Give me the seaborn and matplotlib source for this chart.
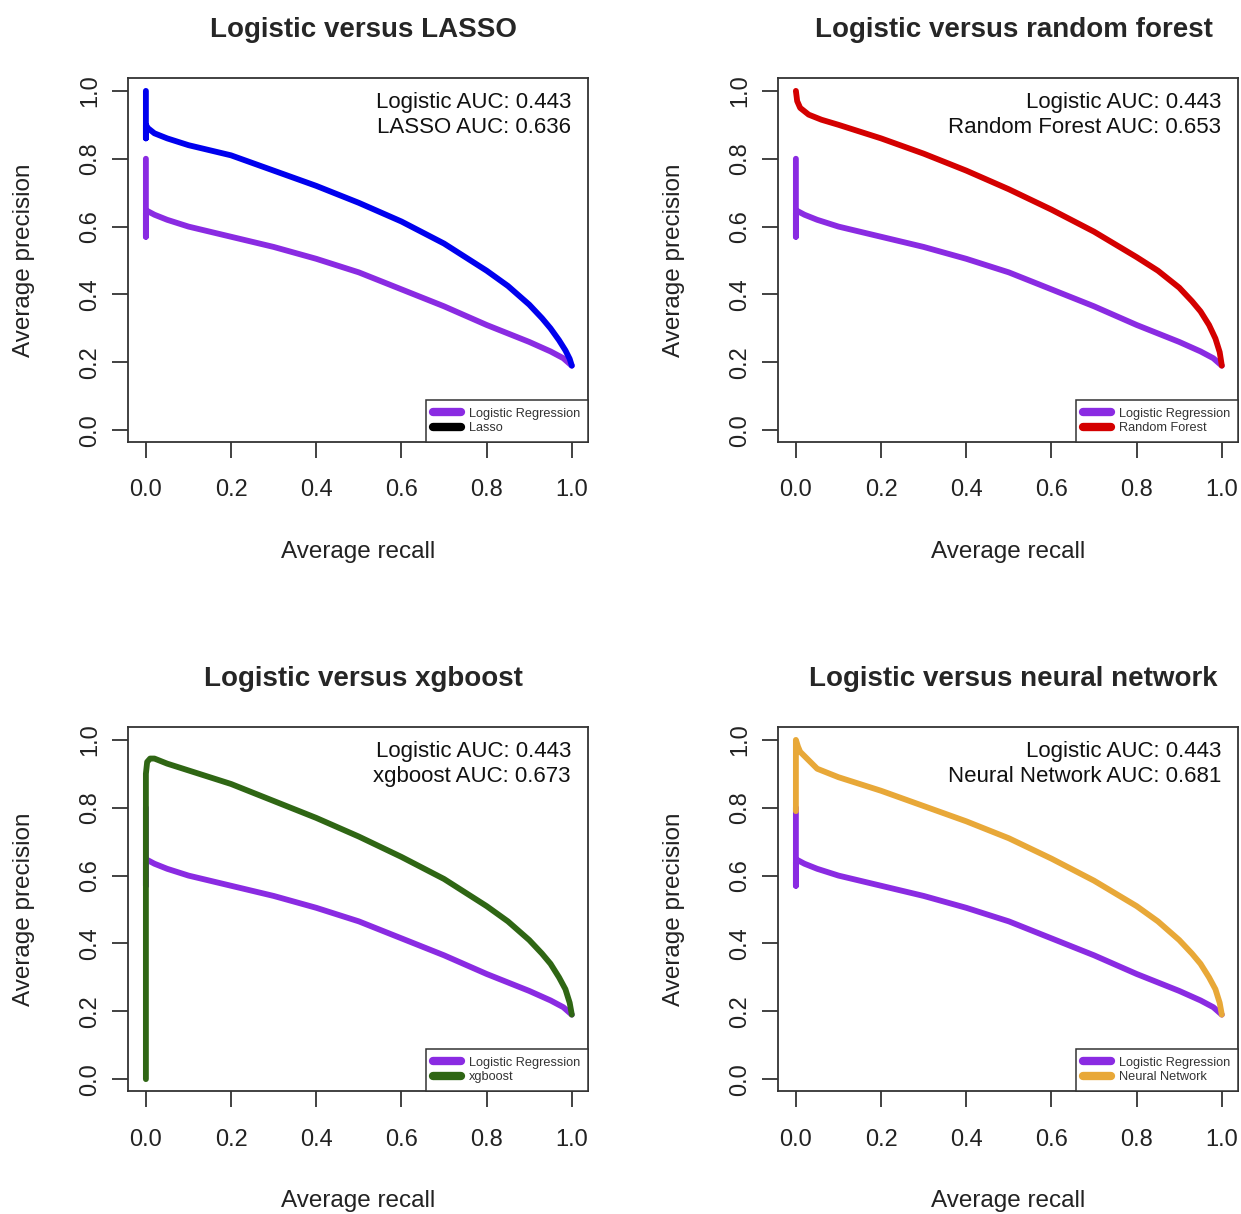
import pandas as pd
import matplotlib.pyplot as plt
import seaborn as sns
from matplotlib.lines import Line2D

# logistic regression curve (same in every panel)
recall_logistic = [0, 0, 0, 0.005, 0.02, 0.05, 0.1, 0.15, 0.2, 0.3, 0.4, 0.5, 0.6, 0.7, 0.8, 0.9, 0.95, 0.98, 1.0]
prec_logistic = [0.80, 0.57, 0.64, 0.645, 0.635, 0.62, 0.60, 0.585, 0.57, 0.54, 0.505, 0.465, 0.415, 0.365, 0.31, 0.26, 0.232, 0.212, 0.19]

recall_lasso = [0, 0, 0, 0.005, 0.02, 0.05, 0.1, 0.2, 0.3, 0.4, 0.5, 0.6, 0.7, 0.8, 0.85, 0.9, 0.93, 0.95, 0.97, 0.985, 0.995, 1.0]
prec_lasso = [1.0, 0.86, 0.90, 0.89, 0.875, 0.86, 0.84, 0.81, 0.765, 0.72, 0.67, 0.615, 0.55, 0.47, 0.425, 0.37, 0.33, 0.30, 0.265, 0.235, 0.21, 0.19]

recall_rf = [0, 0.003, 0.01, 0.03, 0.06, 0.1, 0.2, 0.3, 0.4, 0.5, 0.6, 0.7, 0.8, 0.85, 0.9, 0.93, 0.95, 0.97, 0.985, 0.995, 1.0]
prec_rf = [1.0, 0.97, 0.95, 0.93, 0.915, 0.90, 0.86, 0.815, 0.765, 0.71, 0.65, 0.585, 0.51, 0.47, 0.42, 0.38, 0.35, 0.31, 0.27, 0.23, 0.19]

recall_xgb = [0, 0, 0.003, 0.01, 0.02, 0.05, 0.1, 0.2, 0.3, 0.4, 0.5, 0.6, 0.7, 0.8, 0.85, 0.9, 0.93, 0.95, 0.97, 0.985, 0.995, 1.0]
prec_xgb = [0, 0.90, 0.935, 0.945, 0.945, 0.93, 0.91, 0.87, 0.82, 0.77, 0.715, 0.655, 0.59, 0.51, 0.465, 0.41, 0.37, 0.34, 0.30, 0.265, 0.225, 0.19]

recall_nn = [0, 0, 0.005, 0.01, 0.03, 0.05, 0.1, 0.2, 0.3, 0.4, 0.5, 0.6, 0.7, 0.8, 0.85, 0.9, 0.93, 0.95, 0.97, 0.985, 0.995, 1.0]
prec_nn = [0.79, 1.0, 0.98, 0.965, 0.94, 0.915, 0.89, 0.85, 0.805, 0.76, 0.71, 0.65, 0.585, 0.51, 0.465, 0.41, 0.37, 0.34, 0.30, 0.265, 0.225, 0.19]

titles = ['Logistic versus LASSO', 'Logistic versus random forest',
          'Logistic versus xgboost', 'Logistic versus neural network']
auc_labels = ['LASSO AUC: 0.636', 'Random Forest AUC: 0.653',
              'xgboost AUC: 0.673', 'Neural Network AUC: 0.681']
legend_names = ['Lasso', 'Random Forest', 'xgboost', 'Neural Network']
model_recalls = [recall_lasso, recall_rf, recall_xgb, recall_nn]
model_precs = [prec_lasso, prec_rf, prec_xgb, prec_nn]
model_colors = ['#0000EE', '#D40000', '#2F6614', '#E8A838']
legend_colors = ['black', '#D40000', '#2F6614', '#E8A838']
purple = '#8A2BE2'

sns.set_style('ticks')
plt.rcParams['font.family'] = ['Liberation Sans', 'DejaVu Sans']
axcol = '#333333'

fig = plt.figure(figsize=(12.41, 12.14), dpi=100)
W, H = 1241, 1214
boxes = [(128, 78), (778, 78), (128, 727), (778, 727)]
bw, bh = 460, 364

for i in range(4):
    x0, y0 = boxes[i]
    ax = fig.add_axes([x0 / W, 1 - (y0 + bh) / H, bw / W, bh / H])

    df_log = pd.DataFrame({'recall': recall_logistic, 'precision': prec_logistic})
    df_mod = pd.DataFrame({'recall': model_recalls[i], 'precision': model_precs[i]})
    sns.lineplot(data=df_log, x='recall', y='precision', sort=False, estimator=None,
                 color=purple, lw=4.2, ax=ax, legend=False)
    sns.lineplot(data=df_mod, x='recall', y='precision', sort=False, estimator=None,
                 color=model_colors[i], lw=4.2, ax=ax, legend=False)

    ax.set_xlim(-0.042, 1.038)
    ax.set_ylim(-0.035, 1.038)
    ax.set_xticks([0, 0.2, 0.4, 0.6, 0.8, 1.0])
    ax.set_yticks([0, 0.2, 0.4, 0.6, 0.8, 1.0])
    ax.set_xticklabels(['0.0', '0.2', '0.4', '0.6', '0.8', '1.0'])
    ax.set_yticklabels(['0.0', '0.2', '0.4', '0.6', '0.8', '1.0'], rotation=90, va='center')
    ax.tick_params(axis='both', direction='out', length=11.5, width=1.3, color=axcol,
                   labelsize=17, labelcolor='#222222')
    ax.tick_params(axis='x', pad=15.5)
    ax.tick_params(axis='y', pad=8)
    for s in ax.spines.values():
        s.set_color(axcol)
        s.set_linewidth(1.3)
        s.set_visible(True)

    ax.set_xlabel('Average recall', fontsize=17.5, color='#222222')
    ax.set_ylabel('Average precision', fontsize=17.5, color='#222222')
    ax.xaxis.set_label_coords(0.5, -110 / bh)
    ax.xaxis.label.set_va('center')
    ax.yaxis.set_label_coords(-104 / bw, 0.5)
    ax.yaxis.label.set_va('center')

    ax.text(0.512, 1 + 48 / bh, titles[i], transform=ax.transAxes, ha='center',
            va='center', fontsize=20, fontweight='bold')
    ax.text(0.963, 0.962, 'Logistic AUC: 0.443\n' + auc_labels[i], transform=ax.transAxes,
            ha='right', va='top', fontsize=16, linespacing=1.28, color='#111111')

    handles = [Line2D([], [], color=purple, lw=6, solid_capstyle='round'),
               Line2D([], [], color=legend_colors[i], lw=6, solid_capstyle='round')]
    leg = ax.legend(handles, ['Logistic Regression', legend_names[i]], loc='lower right',
                    fontsize=9.2, frameon=True, fancybox=False, framealpha=1,
                    borderaxespad=0, handlelength=2.2, handletextpad=0.6,
                    borderpad=0.6, labelspacing=0.2)
    leg.get_frame().set_edgecolor(axcol)
    leg.get_frame().set_linewidth(1.1)
    for t in leg.get_texts():
        t.set_color('#333333')

plt.savefig('out.png', dpi=100)
